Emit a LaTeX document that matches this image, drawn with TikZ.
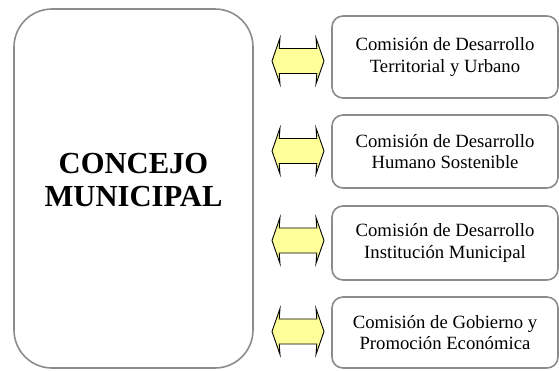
\documentclass[tikz,border=0pt]{standalone}
\usepackage{fontspec}
\setmainfont{Liberation Serif}
\definecolor{boxgray}{RGB}{140,140,140}
\definecolor{arrowyellow}{RGB}{255,255,153}

\begin{document}
\begin{tikzpicture}[x=1pt,y=-1pt]
                \useasboundingbox (0,0) rectangle (559,370);
                \begin{scope}[every node/.style={draw=boxgray,line width=1.6pt,rounded corners=11pt,fill=white,inner sep=0pt,align=center,font=\fontsize{18.7}{21.5}\selectfont,minimum width=226pt}]
                    \node (CM) [rounded corners=38pt,minimum width=239pt,minimum height=359pt,text depth=17pt,font=\fontsize{30.6}{33}\selectfont\bfseries] at (133.5,188.5) {CONCEJO\\MUNICIPAL};
                    \node (C1) [minimum height=82pt] at (445,57) {Comisión de Desarrollo\\Territorial y Urbano};
                    \node (C2) [minimum height=73pt] at (445,151.5) {Comisión de Desarrollo\\Humano Sostenible};
                    \node (C3) [minimum height=74pt] at (445,243) {Comisión de Desarrollo\\Institución Municipal};
                    \node (C4) [minimum height=71pt] at (445,332.5) {Comisión de Gobierno y\\Promoción Económica};
                \end{scope}
                \coordinate (F1) at (298,61);
                \coordinate (F2) at (298,151);
                \coordinate (F3) at (298,240.5);
                \coordinate (F4) at (298,331.5);
                \begin{scope}[every path/.style={draw=black,fill=arrowyellow,line width=0.9pt,line join=miter}]
                    \foreach \f in {F1,F2,F3,F4}
                        \path (\f) ++(-26,0) -- ++(8,-23) -- ++(-0.8,10.5) -- ++(37.6,0) -- ++(-0.8,-10.5) -- ++(8,23) -- ++(-8,23) -- ++(0.8,-10.5) -- ++(-37.6,0) -- ++(0.8,10.5) -- cycle;
                \end{scope}
            \end{tikzpicture}
\end{document}
